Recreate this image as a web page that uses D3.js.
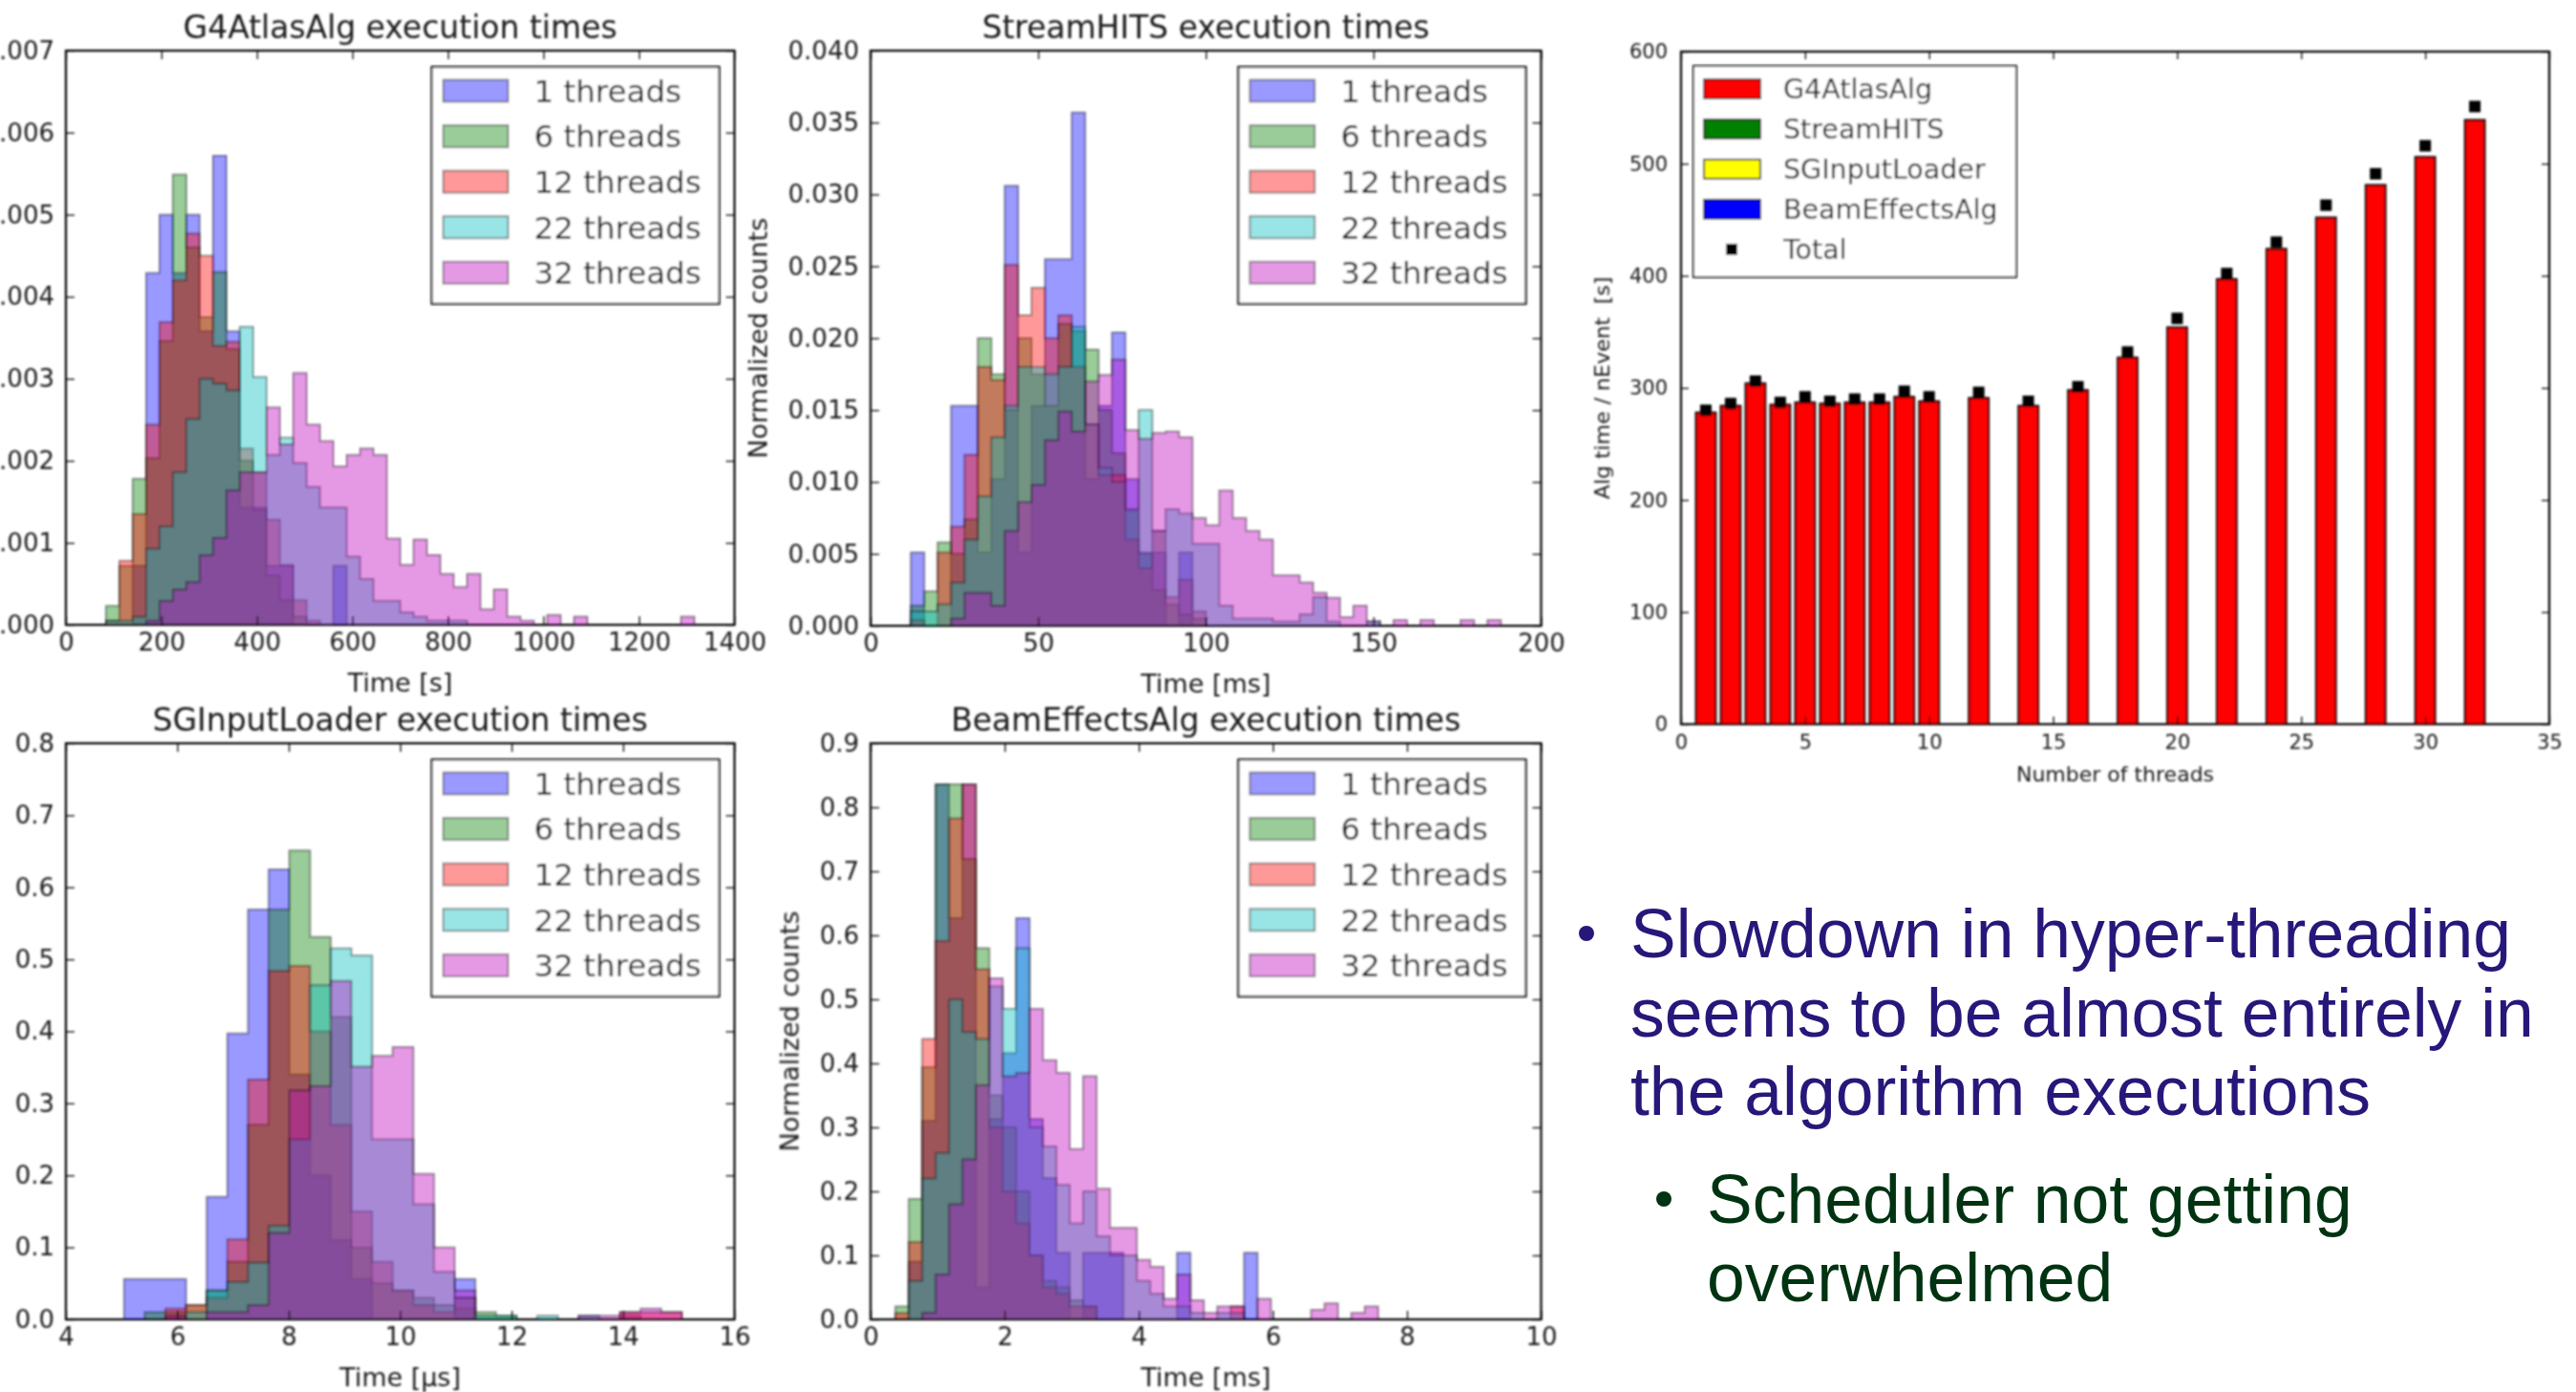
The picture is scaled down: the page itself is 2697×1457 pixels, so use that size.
<!DOCTYPE html>
<html>
<head>
<meta charset="utf-8">
<script src="https://cdn.jsdelivr.net/npm/d3@7"></script>
<style>
  html, body { margin: 0; padding: 0; background: #fff; }
  svg { display: block; }
</style>
</head>
<body>
<svg id="fig" width="2697" height="1457"></svg>
<script>
// ---------------------------------------------------------------------------
// Data
// ---------------------------------------------------------------------------
const threadLabels = ["1 threads", "6 threads", "12 threads", "22 threads", "32 threads"];

// G4AtlasAlg: normalized counts (x 1e-3) per 28 s bin, first bin starts at 0 s
const g4BinStart = 0, g4BinWidth = 28;
const g4T1  = [0,0,0,0,0,0.72,4.29,5.00,4.29,5.00,3.58,5.72,3.58,1.43,1.43,0.72,0.72,0,0,0,0.72];
const g4T6  = [0,0,0,0.23,0.72,1.78,2.03,3.46,5.49,4.60,3.75,4.30,3.36,2.00,1.40,0.60,0.30,0.10];
const g4T12 = [0,0,0,0.05,0.78,1.35,2.44,3.69,4.20,4.77,4.50,3.40,3.45,2.15,1.86,1.28,0.73,0.30,0.05];
const g4T22 = [0,0,0,0.05,0.05,0.10,0.93,1.20,1.86,2.51,3.00,2.94,2.86,3.63,3.02,2.07,2.28,1.97,1.68,1.43,1.43,0.83,0.56,0.29,0.29,0.15,0.10,0.05,0.05,0.05];
const g4T32 = [0,0,0,0,0,0,0.05,0.29,0.43,0.52,0.85,1.06,1.64,1.86,1.86,2.65,2.20,3.07,2.44,2.24,1.93,2.07,2.15,2.07,1.05,0.73,1.04,0.85,0.62,0.46,0.62,0.19,0.43,0.10,0.05,0,0.12,0,0.10,0,0,0,0,0,0,0,0.10];

// StreamHITS: normalized counts (x 1e-3) per 4 ms bin, first bin starts at 0 ms
const shBinStart = 0, shBinWidth = 4;
const shT1  = [0,0,0,5.1,0,0,15.3,15.3,5.1,10.2,30.6,5.1,15.3,25.5,25.5,35.7,10.2,15.3,20.4,10.2,5.1,5.1,0,5.1];
const shT6  = [0,0,0,1.4,2.4,5.8,5.0,7.4,20.0,17.5,15.0,20.0,17.5,15.3,21.0,20.5,19.2,15.0,12.0,8.0,5.0,2.5,1.5,0.8,0.5];
const shT12 = [0,0,0,0.4,0,5.1,6.9,11.9,18.0,17.1,25.1,21.6,23.5,20.0,21.6,18.0,14.0,10.5,10.5,6.0,4.0,6.6,2.0,3.2,1.0];
const shT22 = [0,0,0,1.0,1.0,1.5,3.0,6.0,9.0,13.1,15.3,18.0,18.0,17.5,18.0,20.8,14.0,11.0,10.0,8.1,15.0,6.6,8.1,7.8,5.7,5.7,1.4,0.5,0.5,0.5,0.3,0.3,0.8,2.0,0.3,0,0,0.3];
const shT32 = [0,0,0,0,0,0,0.5,2.3,2.3,1.4,6.6,8.6,9.8,12.9,14.9,13.5,17.0,17.45,18.5,13.6,13.0,13.4,13.5,13.1,7.5,7.0,9.4,7.5,6.6,6.0,3.5,3.5,3.0,2.3,1.95,0.6,1.4,0.3,0,0.4,0,0.4,0,0,0.4,0,0.4];

// SGInputLoader: normalized counts per 0.3708 us bin, first bin starts at 5.044 us
const sgBinStart = 5.044, sgBinWidth = 0.3708;
const sgT1  = [0.056,0.056,0.056,0,0.17,0.397,0.569,0.625,0.34,0.2,0.11,0.056,0,0,0,0,0.056];
const sgT6  = [0,0.01,0.01,0.02,0.04,0.08,0.27,0.569,0.651,0.531,0.42,0.1,0.05,0.04,0.03,0.02,0.015,0.01,0.005,0,0,0,0,0,0.005];
const sgT12 = [0,0,0.015,0.02,0.03,0.111,0.333,0.484,0.491,0.4,0.27,0.15,0.08,0.04,0.02,0.01,0.03,0,0,0,0,0,0,0,0.01,0.01,0.01];
const sgT22 = [0,0,0,0.01,0.04,0.052,0.079,0.13,0.25,0.464,0.515,0.505,0.25,0.25,0.16,0.066,0.03,0.005,0.005,0,0.005,0,0.005];
const sgT32 = [0,0,0.005,0,0.01,0.01,0.02,0.12,0.318,0.324,0.47,0.351,0.366,0.378,0.202,0.1,0.04,0,0,0,0,0,0.005,0.005,0.01,0.015,0.01];

// BeamEffectsAlg: normalized counts per 0.2 ms bin, first bin starts at 0.37 ms
const beBinStart = 0.37, beBinWidth = 0.2;
const beT1  = [0,0.09,0.31,0.836,0.627,0.836,0.05,0.313,0.416,0.627,0.313,0.221,0.104,0,0.104,0.104,0.104,0,0,0,0,0.104,0,0,0,0,0.104];
const beT6  = [0.02,0.188,0.394,0.836,0.836,0.719,0.58,0.35,0.3,0.2,0.1,0.06,0.05,0.03,0.02];
const beT12 = [0.01,0.121,0.438,0.591,0.783,0.836,0.547,0.3,0.2,0.15,0.1,0.05,0.04,0.02,0.02,0,0,0,0,0,0,0,0,0,0,0.02];
const beT22 = [0,0.06,0.22,0.26,0.5,0.449,0.438,0.52,0.485,0.58,0.3,0.27,0.21,0.15,0.2,0.13,0.1,0.1,0.06,0.04,0.02,0.02,0.01,0,0.01,0.01];
const beT32 = [0,0,0.01,0.07,0.18,0.25,0.366,0.533,0.38,0.385,0.485,0.405,0.385,0.266,0.38,0.204,0.143,0.143,0.093,0.082,0.032,0.07,0.03,0.01,0.02,0.02,0,0.032,0,0,0,0.015,0.025,0,0.01,0.02];

// Algorithm time per event [s] versus number of threads
const barThreads       = [1,2,3,4,5,6,7,8,9,10,12,14,16,18,20,22,24,26,28,30,32];
const g4AlgTime        = [278,284,304,285,287,286,287,287,292,288,291,284,298,327,354,397,424,452,481,506,539];
const streamHitsTime   = [0.060,0.060,0.061,0.060,0.061,0.061,0.062,0.062,0.062,0.063,0.063,0.064,0.065,0.067,0.070,0.074,0.077,0.080,0.083,0.086,0.090];
const sgInputTime      = [0.00001,0.00001,0.00001,0.00001,0.00001,0.00001,0.00001,0.00001,0.00001,0.00001,0.00001,0.00001,0.00001,0.00001,0.00001,0.00001,0.00001,0.00001,0.00001,0.00001,0.00001];
const beamEffectsTime  = [0.0019,0.0019,0.0020,0.0019,0.0019,0.0019,0.0020,0.0020,0.0020,0.0020,0.0020,0.0020,0.0021,0.0021,0.0022,0.0023,0.0024,0.0025,0.0026,0.0027,0.0028];
const totalTime        = [280,286,306,287,292,288,290,290,297,292,296,288,301,332,362,402,430,463,491,516,551];
const barSeriesNames   = ["G4AtlasAlg", "StreamHITS", "SGInputLoader", "BeamEffectsAlg"];

// Summary bullets
const mainBullet = ["Slowdown in hyper-threading", "seems to be almost entirely in", "the algorithm executions"];
const subBullet  = ["Scheduler not getting", "overwhelmed"];

// ---------------------------------------------------------------------------
// Styles
// ---------------------------------------------------------------------------
const FONT = "DejaVu Sans";
const threadColors = ["#0000ff", "#008000", "#ff0000", "#00bfbf", "#bf00bf"];
const barColors = ["#ff0000", "#008000", "#ffff00", "#0000ff"];

const svg = d3.select("#fig");
svg.append("rect").attr("width", 2697).attr("height", 1457).attr("fill", "#fff");
svg.append("defs").append("filter").attr("id", "soft")
  .attr("x", "-2%").attr("y", "-2%").attr("width", "104%").attr("height", "104%")
  .append("feGaussianBlur").attr("stdDeviation", 0.8);

// inward ticks on all four sides plus a closed frame
function drawFrame(g, x, y, box, xTicks, yTicks, xFmt, yFmt, fs, tickLen, xPad, yPad) {
  const styleAxis = sel => {
    sel.select(".domain").remove();
    sel.attr("font-size", fs).attr("font-family", FONT);
    sel.selectAll(".tick line").attr("stroke", "#000").attr("stroke-width", 1.3);
    sel.selectAll(".tick text").attr("fill", "#1a1a1a");
  };
  g.append("g").attr("transform", `translate(0,${box.bottom})`)
    .call(d3.axisBottom(x).tickValues(xTicks).tickSize(-tickLen).tickPadding(xPad).tickFormat(xFmt))
    .call(styleAxis);
  g.append("g").attr("transform", `translate(0,${box.top})`)
    .call(d3.axisTop(x).tickValues(xTicks).tickSize(-tickLen).tickFormat(""))
    .call(styleAxis);
  const left = g.append("g").attr("transform", `translate(${box.left},0)`)
    .call(d3.axisLeft(y).tickValues(yTicks).tickSize(-tickLen).tickPadding(yPad).tickFormat(yFmt))
    .call(styleAxis);
  g.append("g").attr("transform", `translate(${box.right},0)`)
    .call(d3.axisRight(y).tickValues(yTicks).tickSize(-tickLen).tickFormat(""))
    .call(styleAxis);
  g.append("rect")
    .attr("x", box.left).attr("y", box.top)
    .attr("width", box.right - box.left).attr("height", box.bottom - box.top)
    .attr("fill", "none").attr("stroke", "#000").attr("stroke-width", 2.2);
  let maxW = 0;
  left.selectAll(".tick text").each(function () { maxW = Math.max(maxW, this.getComputedTextLength()); });
  return maxW;
}

// one panel of overlaid step-filled histograms
function drawHistogram(spec) {
  const box = spec.box;
  const g = svg.append("g").attr("filter", "url(#soft)");
  const x = d3.scaleLinear().domain(spec.xDomain).range([box.left, box.right]);
  const y = d3.scaleLinear().domain(spec.yDomain).range([box.bottom, box.top]);

  const area = d3.area()
    .curve(d3.curveStepAfter)
    .x(d => x(d.t))
    .y0(y(0))
    .y1(d => y(d.v));

  spec.series.forEach((vals, i) => {
    const pts = vals.map((v, k) => ({ t: spec.binStart + k * spec.binWidth, v: v * spec.unit }));
    pts.push({ t: spec.binStart + vals.length * spec.binWidth, v: 0 });
    g.append("path")
      .attr("d", area(pts))
      .attr("fill", threadColors[i]).attr("fill-opacity", 0.4)
      .attr("stroke", "#000").attr("stroke-opacity", 0.4).attr("stroke-width", 2)
      .attr("stroke-linejoin", "miter");
  });

  const maxW = drawFrame(g, x, y, box, spec.xTicks, spec.yTicks, d3.format("d"), spec.yFormat, 26, 9, 9, 12);

  // title
  g.append("text")
    .attr("x", (box.left + box.right) / 2).attr("y", box.top - 13)
    .attr("text-anchor", "middle").attr("font-family", FONT).attr("font-size", 33)
    .attr("fill", "#1a1a1a").text(spec.title);
  // x label
  g.append("text")
    .attr("x", (box.left + box.right) / 2).attr("y", box.bottom + 70)
    .attr("text-anchor", "middle").attr("font-family", FONT).attr("font-size", 27)
    .attr("fill", "#1a1a1a").text(spec.xLabel);
  // y label
  const lx = box.left - 12 - maxW - 22;
  g.append("text")
    .attr("transform", `translate(${lx},${(box.top + box.bottom) / 2}) rotate(-90)`)
    .attr("text-anchor", "middle").attr("font-family", FONT).attr("font-size", 27)
    .attr("fill", "#1a1a1a").text("Normalized counts");

  // legend
  const lw = 301, lh = 248;
  const lg = g.append("g").attr("transform", `translate(${box.right - 16 - lw},${box.top + 17})`);
  lg.append("rect").attr("width", lw).attr("height", lh)
    .attr("fill", "#fff").attr("stroke", "#111").attr("stroke-width", 2.2);
  threadLabels.forEach((lab, i) => {
    const cy = 25 + i * 47.6;
    lg.append("rect").attr("x", 12).attr("y", cy - 11.5).attr("width", 68).attr("height", 23)
      .attr("fill", threadColors[i]).attr("fill-opacity", 0.4)
      .attr("stroke", "#000").attr("stroke-opacity", 0.4).attr("stroke-width", 2);
    lg.append("text").attr("x", 107).attr("y", cy).attr("dy", "0.36em")
      .attr("font-family", FONT).attr("font-size", 32.5).attr("fill", "#1a1a1a").text(lab);
  });
}

drawHistogram({
  box: { left: 69, right: 769, top: 53, bottom: 654 },
  xDomain: [0, 1400], yDomain: [0, 0.007],
  xTicks: d3.range(0, 1401, 200), yTicks: d3.range(0, 8).map(d => d / 1000),
  yFormat: d3.format(".3f"),
  title: "G4AtlasAlg execution times", xLabel: "Time [s]",
  binStart: g4BinStart, binWidth: g4BinWidth, unit: 1e-3,
  series: [g4T1, g4T6, g4T12, g4T22, g4T32]
});

drawHistogram({
  box: { left: 911.5, right: 1613.5, top: 53, bottom: 655 },
  xDomain: [0, 200], yDomain: [0, 0.04],
  xTicks: d3.range(0, 201, 50), yTicks: d3.range(0, 9).map(d => d * 0.005),
  yFormat: d3.format(".3f"),
  title: "StreamHITS execution times", xLabel: "Time [ms]",
  binStart: shBinStart, binWidth: shBinWidth, unit: 1e-3,
  series: [shT1, shT6, shT12, shT22, shT32]
});

drawHistogram({
  box: { left: 69, right: 769, top: 778, bottom: 1381 },
  xDomain: [4, 16], yDomain: [0, 0.8],
  xTicks: d3.range(4, 17, 2), yTicks: d3.range(0, 9).map(d => d / 10),
  yFormat: d3.format(".1f"),
  title: "SGInputLoader execution times", xLabel: "Time [\u00b5s]",
  binStart: sgBinStart, binWidth: sgBinWidth, unit: 1,
  series: [sgT1, sgT6, sgT12, sgT22, sgT32]
});

drawHistogram({
  box: { left: 911.5, right: 1613.5, top: 778, bottom: 1381 },
  xDomain: [0, 10], yDomain: [0, 0.9],
  xTicks: d3.range(0, 11, 2), yTicks: d3.range(0, 10).map(d => d / 10),
  yFormat: d3.format(".1f"),
  title: "BeamEffectsAlg execution times", xLabel: "Time [ms]",
  binStart: beBinStart, binWidth: beBinWidth, unit: 1,
  series: [beT1, beT6, beT12, beT22, beT32]
});

// ---------------------------------------------------------------------------
// Stacked bars: algorithm time per event vs number of threads
// ---------------------------------------------------------------------------
(function drawBars() {
  const box = { left: 1760, right: 2669, top: 54, bottom: 758 };
  const g = svg.append("g").attr("filter", "url(#soft)");
  const x = d3.scaleLinear().domain([0, 35]).range([box.left, box.right]);
  const y = d3.scaleLinear().domain([0, 600]).range([box.bottom, box.top]);

  const rows = barThreads.map((t, i) => ({
    threads: t,
    G4AtlasAlg: g4AlgTime[i],
    StreamHITS: streamHitsTime[i],
    SGInputLoader: sgInputTime[i],
    BeamEffectsAlg: beamEffectsTime[i]
  }));
  const stacked = d3.stack().keys(barSeriesNames)(rows);
  const bw = x(0.8) - x(0);

  stacked.forEach((layer, li) => {
    g.append("g").selectAll("rect").data(layer).join("rect")
      .attr("x", d => x(d.data.threads) - bw / 2)
      .attr("width", bw)
      .attr("y", d => y(d[1]))
      .attr("height", d => y(d[0]) - y(d[1]))
      .attr("fill", barColors[li])
      .attr("stroke", "#000").attr("stroke-width", li === 0 ? 2 : 0.3);
  });

  g.append("g").selectAll("rect").data(barThreads).join("rect")
    .attr("x", (d, i) => x(d) - 6).attr("y", (d, i) => y(totalTime[i]) - 6)
    .attr("width", 12).attr("height", 12).attr("fill", "#000");

  drawFrame(g, x, y, box, d3.range(0, 36, 5), d3.range(0, 601, 100),
            d3.format("d"), d3.format("d"), 21, 8, 11, 14);

  g.append("text")
    .attr("x", (box.left + box.right) / 2).attr("y", box.bottom + 60)
    .attr("text-anchor", "middle").attr("font-family", FONT).attr("font-size", 22)
    .attr("fill", "#1a1a1a").text("Number of threads");
  g.append("text")
    .attr("transform", `translate(${box.left - 75},${(box.top + box.bottom) / 2}) rotate(-90)`)
    .attr("text-anchor", "middle").attr("font-family", FONT).attr("font-size", 22)
    .attr("fill", "#1a1a1a").attr("xml:space", "preserve").text("Alg time / nEvent  [s]");

  // legend
  const lw = 338, lh = 221;
  const lg = g.append("g").attr("transform", `translate(${box.left + 13},${box.top + 15})`);
  lg.append("rect").attr("width", lw).attr("height", lh)
    .attr("fill", "#fff").attr("stroke", "#111").attr("stroke-width", 2);
  const entries = barSeriesNames.concat(["Total"]);
  entries.forEach((name, i) => {
    const cy = 24 + i * 42;
    if (i < barSeriesNames.length) {
      lg.append("rect").attr("x", 11).attr("y", cy - 10).attr("width", 59).attr("height", 20)
        .attr("fill", barColors[i]).attr("stroke", "#000").attr("stroke-width", 1.5);
    } else {
      lg.append("rect").attr("x", 34).attr("y", cy - 6).attr("width", 12).attr("height", 12)
        .attr("fill", "#000");
    }
    lg.append("text").attr("x", 94).attr("y", cy).attr("dy", "0.36em")
      .attr("font-family", FONT).attr("font-size", 28.5).attr("fill", "#1a1a1a").text(name);
  });
})();

// ---------------------------------------------------------------------------
// Summary bullets
// ---------------------------------------------------------------------------
(function drawBullets() {
  const g = svg.append("g").attr("font-family", "Liberation Sans, Arial, sans-serif").attr("font-size", 71.5);
  const mainColor = "#26187a", subColor = "#003311";
  g.append("circle").attr("cx", 1661).attr("cy", 977).attr("r", 8).attr("fill", mainColor);
  mainBullet.forEach((line, i) => {
    g.append("text").attr("x", 1707).attr("y", 1002 + i * 82.5).attr("fill", mainColor).text(line);
  });
  g.append("circle").attr("cx", 1742).attr("cy", 1255).attr("r", 8).attr("fill", subColor);
  subBullet.forEach((line, i) => {
    g.append("text").attr("x", 1787).attr("y", 1280 + i * 82).attr("fill", subColor).text(line);
  });
})();
</script>
</body>
</html>
